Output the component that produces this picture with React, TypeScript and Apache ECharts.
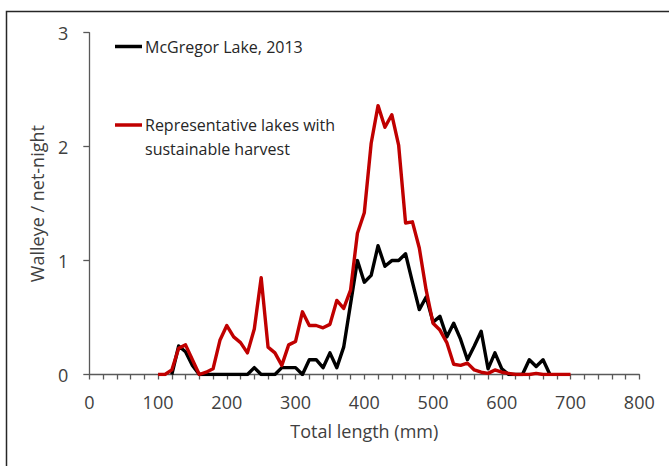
import React, { useEffect, useRef } from "react";
import * as echarts from "echarts";

// Total length (mm) bins
const repLengths = [
  100, 110, 120, 130, 140, 150, 160, 170, 180, 190,
  200, 210, 220, 230, 240, 250, 260, 270, 280, 290,
  300, 310, 320, 330, 340, 350, 360, 370, 380, 390,
  400, 410, 420, 430, 440, 450, 460, 470, 480, 490,
  500, 510, 520, 530, 540, 550, 560, 570, 580, 590,
  600, 610, 620, 630, 640, 650, 660, 670, 680, 690, 700,
];
// Representative lakes with sustainable harvest (walleye / net-night)
const repValues = [
  0, 0, 0.04, 0.23, 0.26, 0.13, 0, 0.02, 0.05, 0.3,
  0.43, 0.33, 0.28, 0.19, 0.4, 0.85, 0.24, 0.19, 0.08, 0.26,
  0.29, 0.55, 0.43, 0.43, 0.41, 0.44, 0.65, 0.58, 0.74, 1.24,
  1.42, 2.03, 2.36, 2.17, 2.28, 2.01, 1.33, 1.34, 1.11, 0.74,
  0.45, 0.39, 0.28, 0.09, 0.08, 0.1, 0.04, 0.02, 0.01, 0.04,
  0.02, 0.01, 0, 0, 0, 0.01, 0, 0, 0, 0, 0,
];

const mcgLengths = [
  120, 130, 140, 150, 160, 170, 180, 190,
  200, 210, 220, 230, 240, 250, 260, 270, 280, 290,
  300, 310, 320, 330, 340, 350, 360, 370, 380, 390,
  400, 410, 420, 430, 440, 450, 460, 470, 480, 490,
  500, 510, 520, 530, 540, 550, 560, 570, 580, 590,
  600, 610, 620, 630, 640, 650, 660, 670,
];
// McGregor Lake, 2013 (walleye / net-night)
const mcgValues = [
  0, 0.25, 0.2, 0.08, 0, 0, 0, 0,
  0, 0, 0, 0, 0.06, 0, 0, 0, 0.06, 0.06,
  0.06, 0, 0.13, 0.13, 0.06, 0.19, 0.06, 0.24, 0.62, 1.0,
  0.81, 0.87, 1.13, 0.95, 1.0, 1.0, 1.06, 0.81, 0.57, 0.68,
  0.46, 0.51, 0.33, 0.45, 0.31, 0.13, 0.25, 0.38, 0.05, 0.19,
  0.05, 0, 0, 0, 0.13, 0.07, 0.13, 0,
];

const xTicks = [0, 100, 200, 300, 400, 500, 600, 700, 800];
const yTicks = [0, 1, 2, 3];

const seriesNames = ["McGregor Lake, 2013", "Representative lakes with", "sustainable harvest"];

const FONT = '"Open Sans", "Noto Sans", sans-serif';
const AXIS_COLOR = "#595959";
const TEXT_COLOR = "#404040";

export default function App() {
  const ref = useRef<HTMLDivElement>(null);

  useEffect(() => {
    document.body.style.margin = "0";
    if (!ref.current) return;
    const chart = echarts.init(ref.current, null, { renderer: "svg" });

    const mcgData = mcgLengths.map((x, i) => [x, mcgValues[i]]);
    const repData = repLengths.map((x, i) => [x, repValues[i]]);

    chart.setOption({
      animation: false,
      backgroundColor: "#ffffff",
      grid: { left: 89.3, right: 29.7, top: 32.7, bottom: 91.5 },
      xAxis: {
        type: "value",
        min: xTicks[0],
        max: xTicks[xTicks.length - 1],
        interval: 100,
        name: "Total length (mm)",
        nameLocation: "middle",
        nameGap: 47,
        nameTextStyle: { fontFamily: FONT, fontSize: 18, color: TEXT_COLOR },
        axisLine: { show: true, lineStyle: { color: AXIS_COLOR, width: 1.3 } },
        axisTick: { show: true, length: 5, lineStyle: { color: AXIS_COLOR, width: 1.3 } },
        minorTick: { show: true, splitNumber: 5, length: 5, lineStyle: { color: AXIS_COLOR, width: 1.3 } },
        splitLine: { show: false },
        minorSplitLine: { show: false },
        axisLabel: { fontFamily: FONT, fontSize: 18, color: TEXT_COLOR, margin: 18 },
      },
      yAxis: {
        type: "value",
        min: yTicks[0],
        max: yTicks[yTicks.length - 1],
        interval: 1,
        name: "Walleye / net-night",
        nameLocation: "middle",
        nameGap: 43,
        nameRotate: 90,
        nameTextStyle: { fontFamily: FONT, fontSize: 18, color: TEXT_COLOR },
        axisLine: { show: true, lineStyle: { color: AXIS_COLOR, width: 1.3 } },
        axisTick: { show: true, length: 6, lineStyle: { color: AXIS_COLOR, width: 1.3 } },
        splitLine: { show: false },
        axisLabel: { fontFamily: FONT, fontSize: 18, color: TEXT_COLOR, margin: 21 },
      },
      series: [
        {
          name: seriesNames[0],
          type: "line",
          data: mcgData,
          symbol: "none",
          showSymbol: false,
          lineStyle: { color: "#000000", width: 3.4, join: "round" },
          itemStyle: { color: "#000000" },
          z: 2,
        },
        {
          name: seriesNames[1] + " " + seriesNames[2],
          type: "line",
          data: repData,
          symbol: "none",
          showSymbol: false,
          lineStyle: { color: "#C00000", width: 3.4, join: "round" },
          itemStyle: { color: "#C00000" },
          z: 3,
        },
      ],
      graphic: [
        {
          type: "rect",
          silent: true,
          shape: { x: 6.5, y: 11.5, width: 720, height: 520 },
          style: { fill: "none", stroke: "#262626", lineWidth: 1.5 },
        },
        {
          type: "line",
          silent: true,
          shape: { x1: 115, y1: 46.5, x2: 142, y2: 46.5 },
          style: { stroke: "#000000", lineWidth: 3.5 },
        },
        {
          type: "text",
          silent: true,
          x: 145,
          y: 46.5,
          style: { text: seriesNames[0], fontFamily: FONT, fontSize: 16, fill: "#262626", verticalAlign: "middle", align: "left" },
        },
        {
          type: "line",
          silent: true,
          shape: { x1: 115, y1: 125, x2: 142, y2: 125 },
          style: { stroke: "#C00000", lineWidth: 3.5 },
        },
        {
          type: "text",
          silent: true,
          x: 145,
          y: 125,
          style: { text: seriesNames[1], fontFamily: FONT, fontSize: 16, fill: "#262626", verticalAlign: "middle", align: "left" },
        },
        {
          type: "text",
          silent: true,
          x: 145,
          y: 148.5,
          style: { text: seriesNames[2], fontFamily: FONT, fontSize: 16, fill: "#262626", verticalAlign: "middle", align: "left" },
        },
      ],
    });

    return () => {
      chart.dispose();
    };
  }, []);

  return <div ref={ref} style={{ width: 669, height: 466 }} />;
}
